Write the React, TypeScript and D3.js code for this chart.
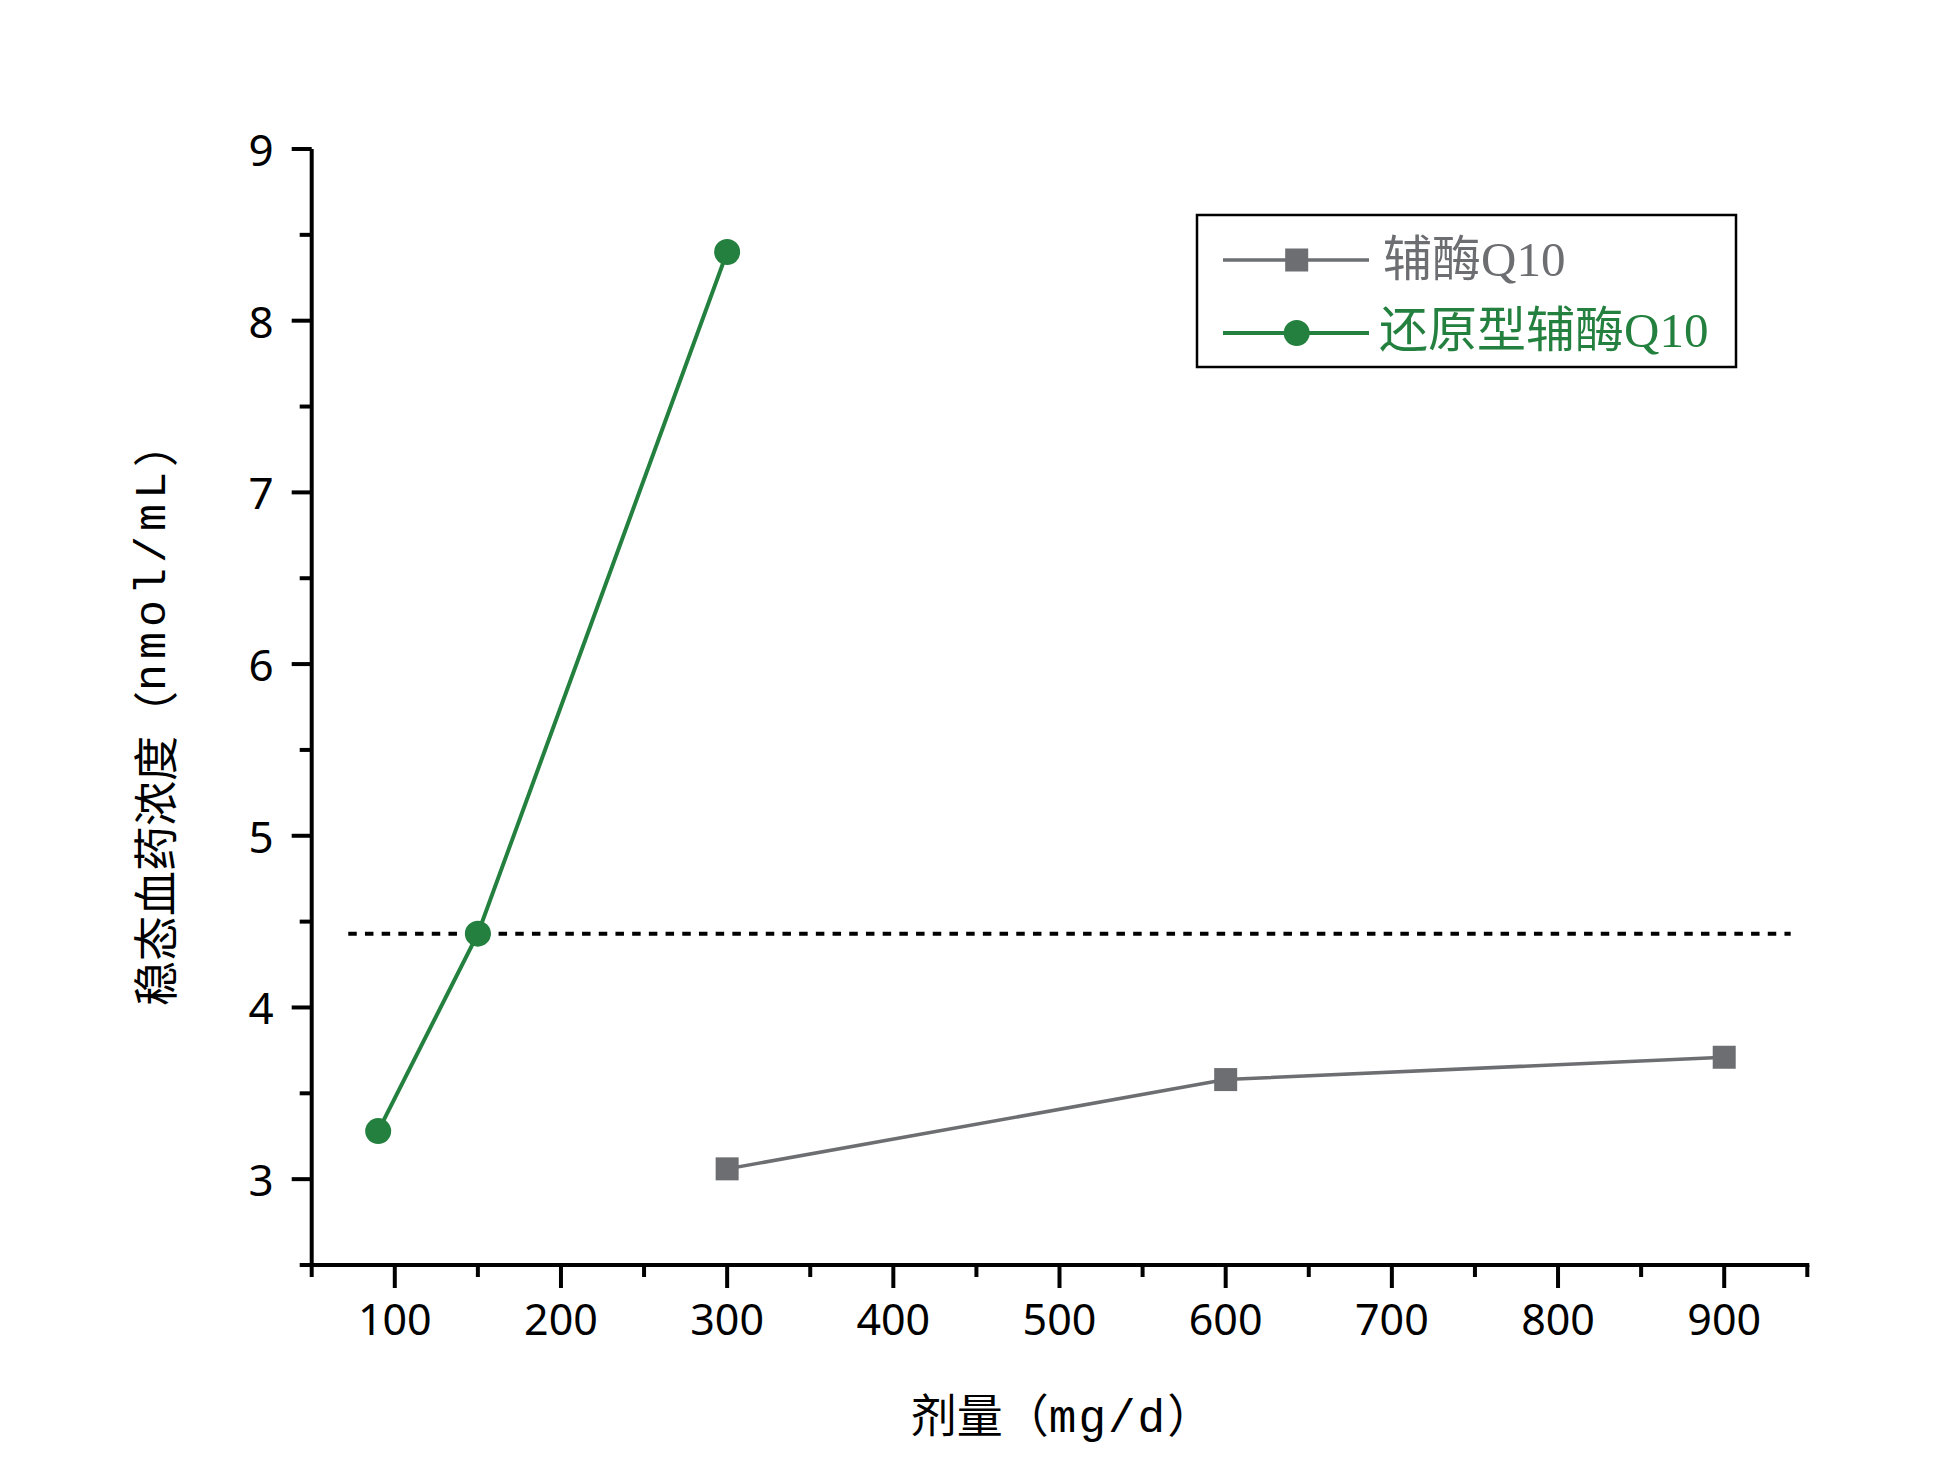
import React from "react";
import * as d3 from "d3";

const doseCoQ10 = [300, 600, 900];
const concCoQ10 = [3.06, 3.58, 3.71];
const doseReduced = [90, 150, 300];
const concReduced = [3.28, 4.43, 8.4];
const thresholdValue = 4.43;
const thresholdRange = [72, 940];
const xTickLabels = [100, 200, 300, 400, 500, 600, 700, 800, 900];
const yTickLabels = [3, 4, 5, 6, 7, 8, 9];
const seriesNames = ["辅酶", "还原型辅酶"];

const W = 1944;
const H = 1481;
const GRAY = "#6d6e72";
const GREEN = "#23803e";
const CJK = "'Noto Sans CJK SC', 'Noto Sans', sans-serif";
const MONO = "'Liberation Mono', 'DejaVu Sans Mono', monospace";
const TICKF = "'Noto Sans', 'DejaVu Sans', sans-serif";
const SERIF = "'Liberation Serif', 'Times New Roman', serif";

export default function App() {
  const x = d3.scaleLinear().domain([50, 950]).range([311.7, 1807.3]);
  const y = d3.scaleLinear().domain([2.5, 9]).range([1265, 149]);

  const xMinor = d3.range(50, 951, 100);
  const yMinor = d3.range(2.5, 9, 1);

  const line = d3
    .line<[number, number]>()
    .x((d) => x(d[0]))
    .y((d) => y(d[1]));

  const grayPts: [number, number][] = doseCoQ10.map((d, i) => [d, concCoQ10[i]]);
  const greenPts: [number, number][] = doseReduced.map((d, i) => [d, concReduced[i]]);

  const x0 = x.range()[0];
  const x1 = x.range()[1];
  const yb = y.range()[0];
  const yt = y.range()[1];

  const legX = 1197;
  const legY = 215;
  const legW = 539;
  const legH = 152;
  const row1 = 260;
  const row2 = 333;

  return (
    <svg
      width={W}
      height={H}
      viewBox={`0 0 ${W} ${H}`}
      style={{ position: "absolute", left: 0, top: 0, background: "#fff" }}
    >
      <rect x={0} y={0} width={W} height={H} fill="#fff" />

      {/* threshold dotted line */}
      <line
        x1={x(thresholdRange[0])}
        x2={x(thresholdRange[1])}
        y1={y(thresholdValue)}
        y2={y(thresholdValue)}
        stroke="#000"
        strokeWidth={4}
        strokeDasharray="8.5 8.2"
      />

      {/* series lines */}
      <path d={line(grayPts) || ""} fill="none" stroke={GRAY} strokeWidth={3.5} />
      <path d={line(greenPts) || ""} fill="none" stroke={GREEN} strokeWidth={4} />

      {grayPts.map((p, i) => (
        <rect
          key={"g" + i}
          x={x(p[0]) - 11.5}
          y={y(p[1]) - 11.5}
          width={23}
          height={23}
          fill={GRAY}
        />
      ))}
      {greenPts.map((p, i) => (
        <circle key={"c" + i} cx={x(p[0])} cy={y(p[1])} r={13} fill={GREEN} />
      ))}

      {/* axes */}
      <line x1={x0} x2={x0} y1={yt} y2={yb + 2} stroke="#000" strokeWidth={4} />
      <line x1={x0 - 2} x2={x1 + 2} y1={yb} y2={yb} stroke="#000" strokeWidth={4} />

      {yTickLabels.map((v) => (
        <g key={"yt" + v}>
          <line x1={x0 - 20} x2={x0} y1={y(v)} y2={y(v)} stroke="#000" strokeWidth={4} />
          <text
            x={x0 - 38}
            y={y(v)}
            textAnchor="end"
            dominantBaseline="central"
            fontFamily={TICKF}
            fontSize={44}
            fill="#000"
          >
            {v}
          </text>
        </g>
      ))}
      {yMinor.map((v) => (
        <line key={"ym" + v} x1={x0 - 12} x2={x0} y1={y(v)} y2={y(v)} stroke="#000" strokeWidth={4} />
      ))}

      {xTickLabels.map((v) => (
        <g key={"xt" + v}>
          <line x1={x(v)} x2={x(v)} y1={yb} y2={yb + 23} stroke="#000" strokeWidth={4} />
          <text
            x={x(v)}
            y={1335}
            textAnchor="middle"
            fontFamily={TICKF}
            fontSize={43}
            fill="#000"
          >
            {v}
          </text>
        </g>
      ))}
      {xMinor.map((v) => (
        <line key={"xm" + v} x1={x(v)} x2={x(v)} y1={yb} y2={yb + 12} stroke="#000" strokeWidth={4} />
      ))}

      {/* axis titles */}
      <text
        x={1062}
        y={1432}
        textAnchor="middle"
        fontFamily={CJK}
        fontSize={46}
        fill="#000"
      >
        剂量（<tspan fontFamily={MONO} letterSpacing={2}>mg/d</tspan>）
      </text>
      <text
        transform={`translate(153, 714) rotate(-90)`}
        textAnchor="middle"
        dominantBaseline="central"
        fontFamily={CJK}
        fontSize={45}
        fill="#000"
      >
        稳态血药浓度（<tspan fontFamily={MONO} letterSpacing={5}>nmol/mL</tspan>）
      </text>

      {/* legend */}
      <rect
        x={legX}
        y={legY}
        width={legW}
        height={legH}
        fill="#fff"
        stroke="#000"
        strokeWidth={2.5}
      />
      <line x1={1223} x2={1369} y1={row1} y2={row1} stroke={GRAY} strokeWidth={3.5} />
      <rect x={1296.7 - 11.5} y={row1 - 11.5} width={23} height={23} fill={GRAY} />
      <text x={1383} y={row1 + 16} fontFamily={CJK} fontSize={49} fill={GRAY}>
        {seriesNames[0]}
        <tspan fontFamily={SERIF}>Q10</tspan>
      </text>
      <line x1={1223} x2={1369} y1={row2} y2={row2} stroke={GREEN} strokeWidth={4} />
      <circle cx={1296.7} cy={row2} r={13} fill={GREEN} />
      <text x={1379} y={row2 + 14} fontFamily={CJK} fontSize={49} fill={GREEN}>
        {seriesNames[1]}
        <tspan fontFamily={SERIF}>Q10</tspan>
      </text>
    </svg>
  );
}
